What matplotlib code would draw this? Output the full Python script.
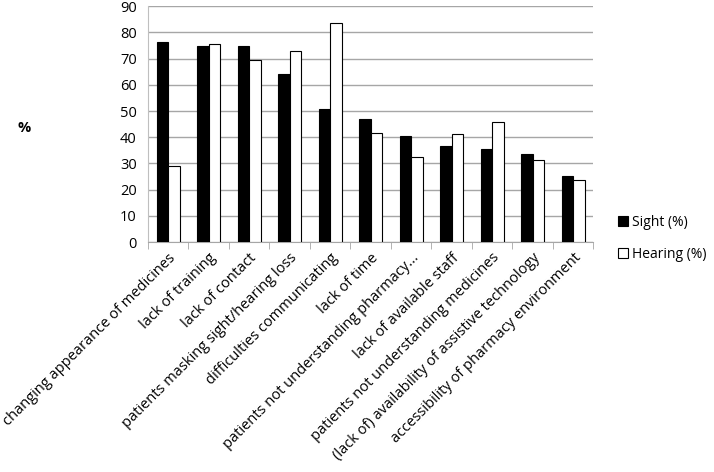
import numpy as np
import matplotlib
matplotlib.use("Agg")
import matplotlib.pyplot as plt

plt.rcParams['font.family'] = ['Open Sans', 'DejaVu Sans']

categories = ['changing appearance of medicines', 'lack of training', 'lack of contact',
              'patients masking sight/hearing loss', 'difficulties communicating',
              'lack of time', 'patients not understanding pharmacy...',
              'lack of available staff', 'patients not understanding medicines',
              '(lack of) availability of assistive technology',
              'accessibility of pharmacy environment']
sight = [76.4, 74.8, 74.8, 64.1, 50.7, 47.1, 40.6, 36.5, 35.4, 33.7, 25.3]
hearing = [29.0, 75.4, 69.6, 72.9, 83.5, 41.8, 32.4, 41.3, 46.0, 31.3, 23.8]

fig = plt.figure(figsize=(7.14, 4.72), dpi=100)
ax = fig.add_axes([0.207, 0.487, 0.624, 0.5])

x = np.arange(len(categories))
w = 0.285
ax.bar(x - w / 2, sight, w, color='black', edgecolor='black', linewidth=0.8,
       label='Sight (%)', zorder=3)
ax.bar(x + w / 2, hearing, w, color='white', edgecolor='black', linewidth=0.8,
       label='Hearing (%)', zorder=3)

ax.set_xlim(-0.5, len(categories) - 0.5)
ax.set_ylim(0, 90)
ax.set_yticks(range(0, 91, 10))
ax.tick_params(axis='y', length=0, labelsize=10.5, pad=8)
ax.yaxis.grid(True, color='#a6a6a6', linewidth=1, zorder=0)

ax.set_xticks(x)
ax.set_xticklabels(categories, rotation=45, ha='right', rotation_mode='anchor',
                   fontsize=10.5)
ax.tick_params(axis='x', length=0, pad=6)
ax.set_xticks(np.arange(-0.5, len(categories)), minor=True)
ax.tick_params(axis='x', which='minor', length=5, color='#a6a6a6')

for s in ['top', 'right']:
    ax.spines[s].set_visible(False)
ax.spines['left'].set_color('#bfbfbf')
ax.spines['bottom'].set_color('#a6a6a6')

fig.text(0.025, 0.728, '%', fontsize=10.5, fontweight='bold', ha='left', va='center')

fig.legend(loc='upper left', bbox_to_anchor=(0.862, 0.55), frameon=False,
           fontsize=10, handlelength=0.7, handleheight=0.7, handletextpad=0.3,
           labelspacing=1.2, borderaxespad=0, borderpad=0.2)

fig.savefig('out.png', dpi=100)
